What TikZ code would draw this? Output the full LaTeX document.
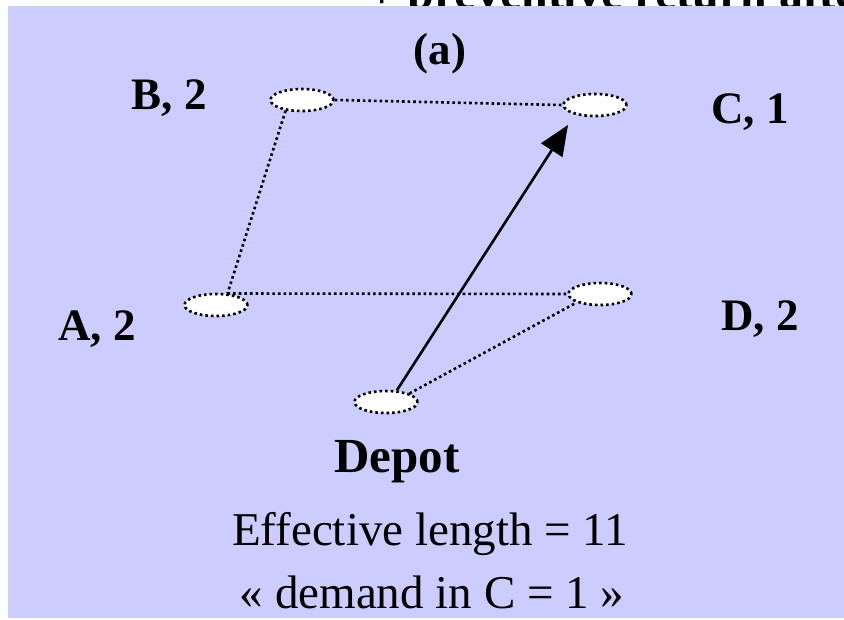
\documentclass[tikz,border=0pt]{standalone}
\usepackage{fontspec}
\setmainfont{Liberation Serif}
\usetikzlibrary{arrows.meta,shapes.geometric}
\definecolor{lav}{HTML}{CCCCFF}
\tikzset{
  site/.style={ellipse,draw=black,fill=white,line width=2.6pt,dash pattern=on 2.6pt off 3pt,
    minimum width=63pt,minimum height=22pt,inner sep=0pt},
  dotlink/.style={line width=2.6pt,dash pattern=on 2.6pt off 3pt},
  lbl/.style={anchor=base,inner sep=0pt,font=\fontsize{45}{50}\selectfont\bfseries},
  txt/.style={anchor=base,inner sep=0pt,font=\fontsize{47}{54}\selectfont},
  route/.style={line width=2.6pt,-{Triangle[length=30pt,width=25pt]}}
}
\begin{document}
\begin{tikzpicture}[x=1pt,y=-1pt]
\useasboundingbox (0,0) rectangle (844,619);
\node[lbl,anchor=base west,font=\fontsize{48}{52}\selectfont\bfseries] (top) at (368,8) {+ preventive return after};
\fill[lav] (8,6) rectangle (844,618);
\node[lbl] (a) at (440,64) {(a)};
\node[site] (B) at (302,100) {};
\node[site] (C) at (595,105) {};
\node[site] (A) at (216,305) {};
\node[site] (D) at (600,294) {};
\node[site] (Depot) at (386,402) {};
\node[lbl] (lB) at (169,109) {B, 2};
\node[lbl] (lC) at (750,123) {C, 1};
\node[lbl] (lA) at (97,340) {A, 2};
\node[lbl] (lD) at (760,330) {D, 2};
\node[lbl,font=\fontsize{49}{54}\selectfont\bfseries] (lDepot) at (397,472) {Depot};
\node[txt] (eff) at (430,545) {Effective length = 11};
\node[txt] (dem) at (432,608) {« demand in C = 1 »};
\coordinate (tip) at (568,125);
\draw[dotlink] (B.east) -- (C.west);
\draw[dotlink] (B.213) -- (A.45);
\draw[dotlink] (A.45) -- (D.west);
\draw[dotlink] (Depot.20) -- (D.200);
\draw[route] (Depot.47) -- (tip);
\end{tikzpicture}
\end{document}
